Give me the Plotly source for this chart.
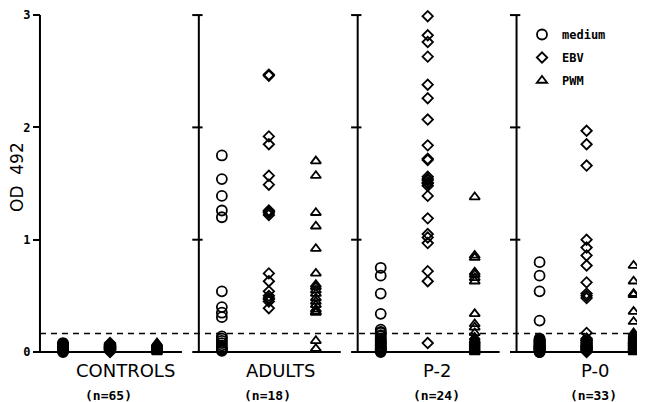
import numpy as np
import plotly.graph_objects as go

# ---------------- data ----------------
groups = ["CONTROLS", "ADULTS", "P-2", "P-0"]
group_n = ["(n=65)", "(n=18)", "(n=24)", "(n=33)"]
treatments = ["medium", "EBV", "PWM"]

controls_medium = [0.08, 0.07, 0.07, 0.06, 0.06, 0.05, 0.05, 0.05, 0.04, 0.04,
                   0.04, 0.03, 0.03, 0.03, 0.02, 0.02, 0.02, 0.01, 0.01, 0.00]
controls_ebv = [0.08, 0.07, 0.07, 0.06, 0.06, 0.05, 0.05, 0.05, 0.04, 0.04,
                0.04, 0.03, 0.03, 0.03, 0.02, 0.02, 0.02, 0.01, 0.01, 0.00]
controls_pwm = [0.08, 0.07, 0.07, 0.06, 0.06, 0.05, 0.05, 0.05, 0.04, 0.04,
                0.04, 0.03, 0.03, 0.03, 0.02, 0.02, 0.02, 0.01, 0.01, 0.00]

adults_medium = [1.75, 1.54, 1.39, 1.26, 1.20, 0.54, 0.40, 0.35, 0.31, 0.14,
                 0.12, 0.10, 0.08, 0.06, 0.04, 0.03, 0.02, 0.01]
adults_ebv = [2.47, 2.46, 1.92, 1.85, 1.57, 1.49, 1.26, 1.25, 1.24, 1.22,
              0.70, 0.63, 0.54, 0.50, 0.48, 0.47, 0.45, 0.39]
adults_pwm = [1.70, 1.57, 1.24, 1.12, 0.92, 0.70, 0.60, 0.58, 0.55, 0.52,
              0.48, 0.45, 0.42, 0.38, 0.36, 0.35, 0.10, 0.03]

p2_medium = [0.75, 0.68, 0.52, 0.34, 0.20, 0.18, 0.17, 0.15, 0.14, 0.12,
             0.11, 0.10, 0.09, 0.08, 0.07, 0.06, 0.05, 0.04, 0.03, 0.03,
             0.02, 0.01, 0.01, 0.00]
p2_ebv = [2.99, 2.82, 2.76, 2.63, 2.38, 2.26, 2.07, 1.84, 1.72, 1.71,
          1.56, 1.54, 1.53, 1.51, 1.50, 1.48, 1.39, 1.19, 1.05, 1.02,
          0.97, 0.72, 0.63, 0.08]
p2_pwm = [1.38, 0.86, 0.84, 0.71, 0.69, 0.66, 0.63, 0.34, 0.25, 0.22,
          0.17, 0.13, 0.11, 0.10, 0.09, 0.08, 0.07, 0.06, 0.05, 0.04,
          0.03, 0.02, 0.01, 0.00]

p0_medium = [0.80, 0.68, 0.54, 0.28, 0.12, 0.11, 0.11, 0.10, 0.10, 0.09,
             0.09, 0.08, 0.08, 0.07, 0.07, 0.06, 0.06, 0.05, 0.05, 0.05,
             0.04, 0.04, 0.04, 0.03, 0.03, 0.03, 0.02, 0.02, 0.02, 0.01,
             0.01, 0.00, 0.00]
p0_ebv = [1.97, 1.85, 1.66, 1.00, 0.93, 0.86, 0.77, 0.62, 0.52, 0.50,
          0.48, 0.17, 0.12, 0.11, 0.10, 0.10, 0.09, 0.08, 0.08, 0.07,
          0.06, 0.06, 0.05, 0.05, 0.04, 0.04, 0.03, 0.03, 0.02, 0.02,
          0.01, 0.01, 0.00]
p0_pwm = [0.77, 0.63, 0.52, 0.51, 0.36, 0.27, 0.17, 0.15, 0.14, 0.13,
          0.12, 0.11, 0.10, 0.10, 0.09, 0.09, 0.08, 0.08, 0.07, 0.07,
          0.06, 0.06, 0.05, 0.05, 0.04, 0.04, 0.03, 0.03, 0.02, 0.02,
          0.01, 0.01, 0.00]

cutoff = 0.166
y_ticks = [0, 1, 2, 3]

series = {
    "medium": [controls_medium, adults_medium, p2_medium, p0_medium],
    "EBV": [controls_ebv, adults_ebv, p2_ebv, p0_ebv],
    "PWM": [controls_pwm, adults_pwm, p2_pwm, p0_pwm],
}

# ---------------- layout / style ----------------
# the page body adds an 8px margin, so the figure is 8px smaller than the window
W, H = 637, 394
GAP = 3.38            # distance between groups (in treatment-slot units)
PX = 47.0             # pixels per slot unit
X0 = 55.0             # figure pixel of the first slot
x_range = [-X0 / PX, (W - X0) / PX]
y_range = [-0.445, 3.063]

symbols = {"medium": "circle-open", "EBV": "diamond-open", "PWM": "triangle-up-open"}
sizes = {"medium": 10, "EBV": 8, "PWM": 9}

fig = go.Figure()
for t, name in enumerate(treatments):
    xs, ys = [], []
    for g, vals in enumerate(series[name]):
        xs.extend([g * GAP + t] * len(vals))
        ys.extend(vals)
    fig.add_trace(go.Scatter(
        x=xs, y=ys, mode="markers", name=name, legendgroup=name,
        marker=dict(symbol=symbols[name], size=sizes[name], color="black",
                    line=dict(color="black", width=1.8)),
        cliponaxis=False,
    ))

shapes = []
panel_w = 3.02
for g in range(len(groups)):
    left = g * GAP - 0.49
    right = min(left + panel_w, x_range[1])
    shapes.append(dict(type="line", xref="x", yref="y", x0=left, x1=left,
                       y0=0, y1=3, line=dict(color="black", width=2)))
    shapes.append(dict(type="line", xref="x", yref="y",
                       x0=left - (0.12 if g > 0 else 0), x1=right,
                       y0=0, y1=0, line=dict(color="black", width=2)))
    if g > 0:
        for v in y_ticks:
            shapes.append(dict(type="line", xref="x", yref="y",
                               x0=left - 0.14, x1=left + 0.08, y0=v, y1=v,
                               line=dict(color="black", width=2)))
shapes.append(dict(type="line", xref="x", yref="y", x0=-0.49, x1=x_range[1],
                   y0=cutoff, y1=cutoff,
                   line=dict(color="black", width=1.5, dash="6px,5px")))

label_dx = [1.32, 1.24, 1.20, 1.18]
n_dx = [0.96, 0.98, 1.18, 1.14]
annotations = []
for g, (lab, n) in enumerate(zip(groups, group_n)):
    annotations.append(dict(x=g * GAP + label_dx[g], y=-0.165, xref="x", yref="y",
                            text=lab, showarrow=False,
                            font=dict(family="DejaVu Sans", size=18, color="black")))
    annotations.append(dict(x=g * GAP + n_dx[g], y=-0.385, xref="x", yref="y",
                            text=n, showarrow=False,
                            font=dict(family="DejaVu Sans Mono", size=13,
                                      color="black", weight="bold")))
annotations.append(dict(x=9 / W, y=(H - 169) / H, xref="paper", yref="paper",
                        xanchor="center", yanchor="middle",
                        text="OD  492", textangle=-90, showarrow=False,
                        font=dict(family="DejaVu Sans", size=17, color="black")))

fig.update_layout(
    width=W, height=H,
    margin=dict(l=0, r=0, t=0, b=0),
    paper_bgcolor="white", plot_bgcolor="white",
    xaxis=dict(range=x_range, visible=False),
    yaxis=dict(range=y_range, anchor="free", position=32 / W,
               tickvals=y_ticks, ticktext=[str(v) for v in y_ticks],
               ticks="outside", ticklen=7, tickwidth=2, tickcolor="black",
               ticklabeloverflow="allow",
               showline=False, showgrid=False, zeroline=False,
               tickfont=dict(family="DejaVu Sans Mono", size=12, color="black",
                             weight="bold")),
    shapes=shapes,
    annotations=annotations,
    showlegend=True,
    legend=dict(x=514 / W, y=1 - 12 / H, xanchor="left", yanchor="top",
                bgcolor="rgba(0,0,0,0)", tracegroupgap=4,
                font=dict(family="DejaVu Sans Mono", size=12, color="black",
                          weight="bold")),
)

fig.write_html("out.html")
